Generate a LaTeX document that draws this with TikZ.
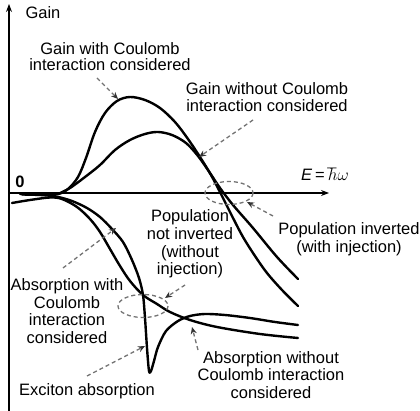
\documentclass[tikz,border=0pt]{standalone}
\usepackage{fontspec}
\setmainfont{Liberation Sans}
\usetikzlibrary{arrows.meta}
\tikzset{
  lbl/.style={font=\fontsize{16.5}{17.6}\selectfont, align=center, inner sep=0pt},
  curve/.style={line width=2.4pt, line cap=round, line join=round},
  axisline/.style={line width=1.1pt, -{Stealth[length=8pt,width=6pt]}},
  pointer/.style={draw=black!55, line width=1.3pt, dash pattern=on 4pt off 3pt, -{Stealth[length=7pt,width=6pt,color=black!80]}},
  ring/.style={draw=black!55, line width=1.3pt, dash pattern=on 4pt off 3pt}
}
\begin{document}
\begin{tikzpicture}[x=1pt,y=-1pt]
\useasboundingbox (0,0) rectangle (420,411);
% axes
\coordinate (yb) at (9,411);
\coordinate (yt) at (9,4);
\coordinate (xl) at (9,193);
\coordinate (xr) at (329,193);
\draw[axisline] (yb) -- (yt);
\draw[axisline] (xl) -- (xr);
\node[lbl] (gainlab) at (43,13) {Gain};
\node[lbl, font=\fontsize{16.5}{17.6}\selectfont\bfseries] (zero) at (20,182) {0};
\node[lbl] (elab) at (325,174) {\textit{E}\,=\,$\hbar\omega$};

% gain with Coulomb
\draw[curve] plot[smooth, tension=0.55] coordinates {
 (20,194) (40,194.5) (58,194) (68,189) (78,177) (86,158) (95,132) (105,113)
 (117,101) (130,97) (145,100) (160,108) (175,122) (188,139) (200,157)
 (211,175) (221,194) (232,216) (243,237) (255,256) (267,273) (282,290) (298,306)};
% gain without Coulomb
\draw[curve] plot[smooth, tension=0.55] coordinates {
 (58,194) (70,188) (85,177) (100,165) (115,150) (130,140) (145,134) (158,132)
 (172,135) (186,143) (198,156) (210,173) (220,188) (233,205) (253,228)
 (277,257) (298,279)};
% absorption with Coulomb (exciton)
\draw[curve] plot[smooth, tension=0.5] coordinates {
 (22,194.5) (40,195) (56,196.5) (72,201) (87,208) (100,217) (112,229) (123,242)
 (132,260) (139,278) (143,295) (145,318) (147,348) (149,371) (151,371)
 (154,361) (158,347) (166,331) (178,321) (190,316) (205,314) (225,315)
 (250,318) (275,322) (298,325)};
% absorption without Coulomb
\draw[curve] plot[smooth, tension=0.55] coordinates {
 (12,203) (30,200) (50,197.5) (62,199) (77,207) (90,219) (100,232) (110,249)
 (120,266) (130,281) (143,295) (157,304) (170,312) (190,320) (217,327)
 (260,334) (298,338)};

% dashed ellipses
\draw[ring] (229,193) ellipse [x radius=24, y radius=11.5];
\draw[ring] (143,306) ellipse [x radius=25, y radius=11.5];

% labels
\node[lbl, font=\fontsize{16.5}{16}\selectfont] (gc) at (110,57) {Gain with Coulomb\\interaction considered};
\node[lbl] (gw) at (267,97) {Gain without Coulomb\\interaction considered};
\node[lbl] (pi) at (349,239) {Population inverted\\(with injection)};
\node[lbl] (pn) at (190,244) {Population\\not inverted\\(without\\injection)};
\node[lbl] (ac) at (67,311) {Absorption with\\Coulomb\\interaction\\considered};
\node[lbl] (ex) at (87,391) {Exciton absorption};
\node[lbl] (aw) at (271,375) {Absorption without\\Coulomb interaction\\considered};

% pointer coordinates
\coordinate (t1) at (97,78);   \coordinate (h1) at (118,99);
\coordinate (t2) at (253,120); \coordinate (h2) at (199,157);
\coordinate (t3) at (273,216); \coordinate (h3) at (247,202);
\coordinate (t4) at (185,285); \coordinate (h4) at (165,298);
\coordinate (t5) at (63,268);  \coordinate (h5) at (116,228);
\coordinate (t6) at (87,376);  \coordinate (h6) at (145,346);
\coordinate (t7) at (198,350); \coordinate (h7) at (192,327);
\draw[pointer] (t1) -- (h1);
\draw[pointer] (t2) -- (h2);
\draw[pointer] (t3) -- (h3);
\draw[pointer] (t4) -- (h4);
\draw[pointer] (t5) -- (h5);
\draw[pointer] (t6) -- (h6);
\draw[pointer] (t7) -- (h7);
\end{tikzpicture}
\end{document}
